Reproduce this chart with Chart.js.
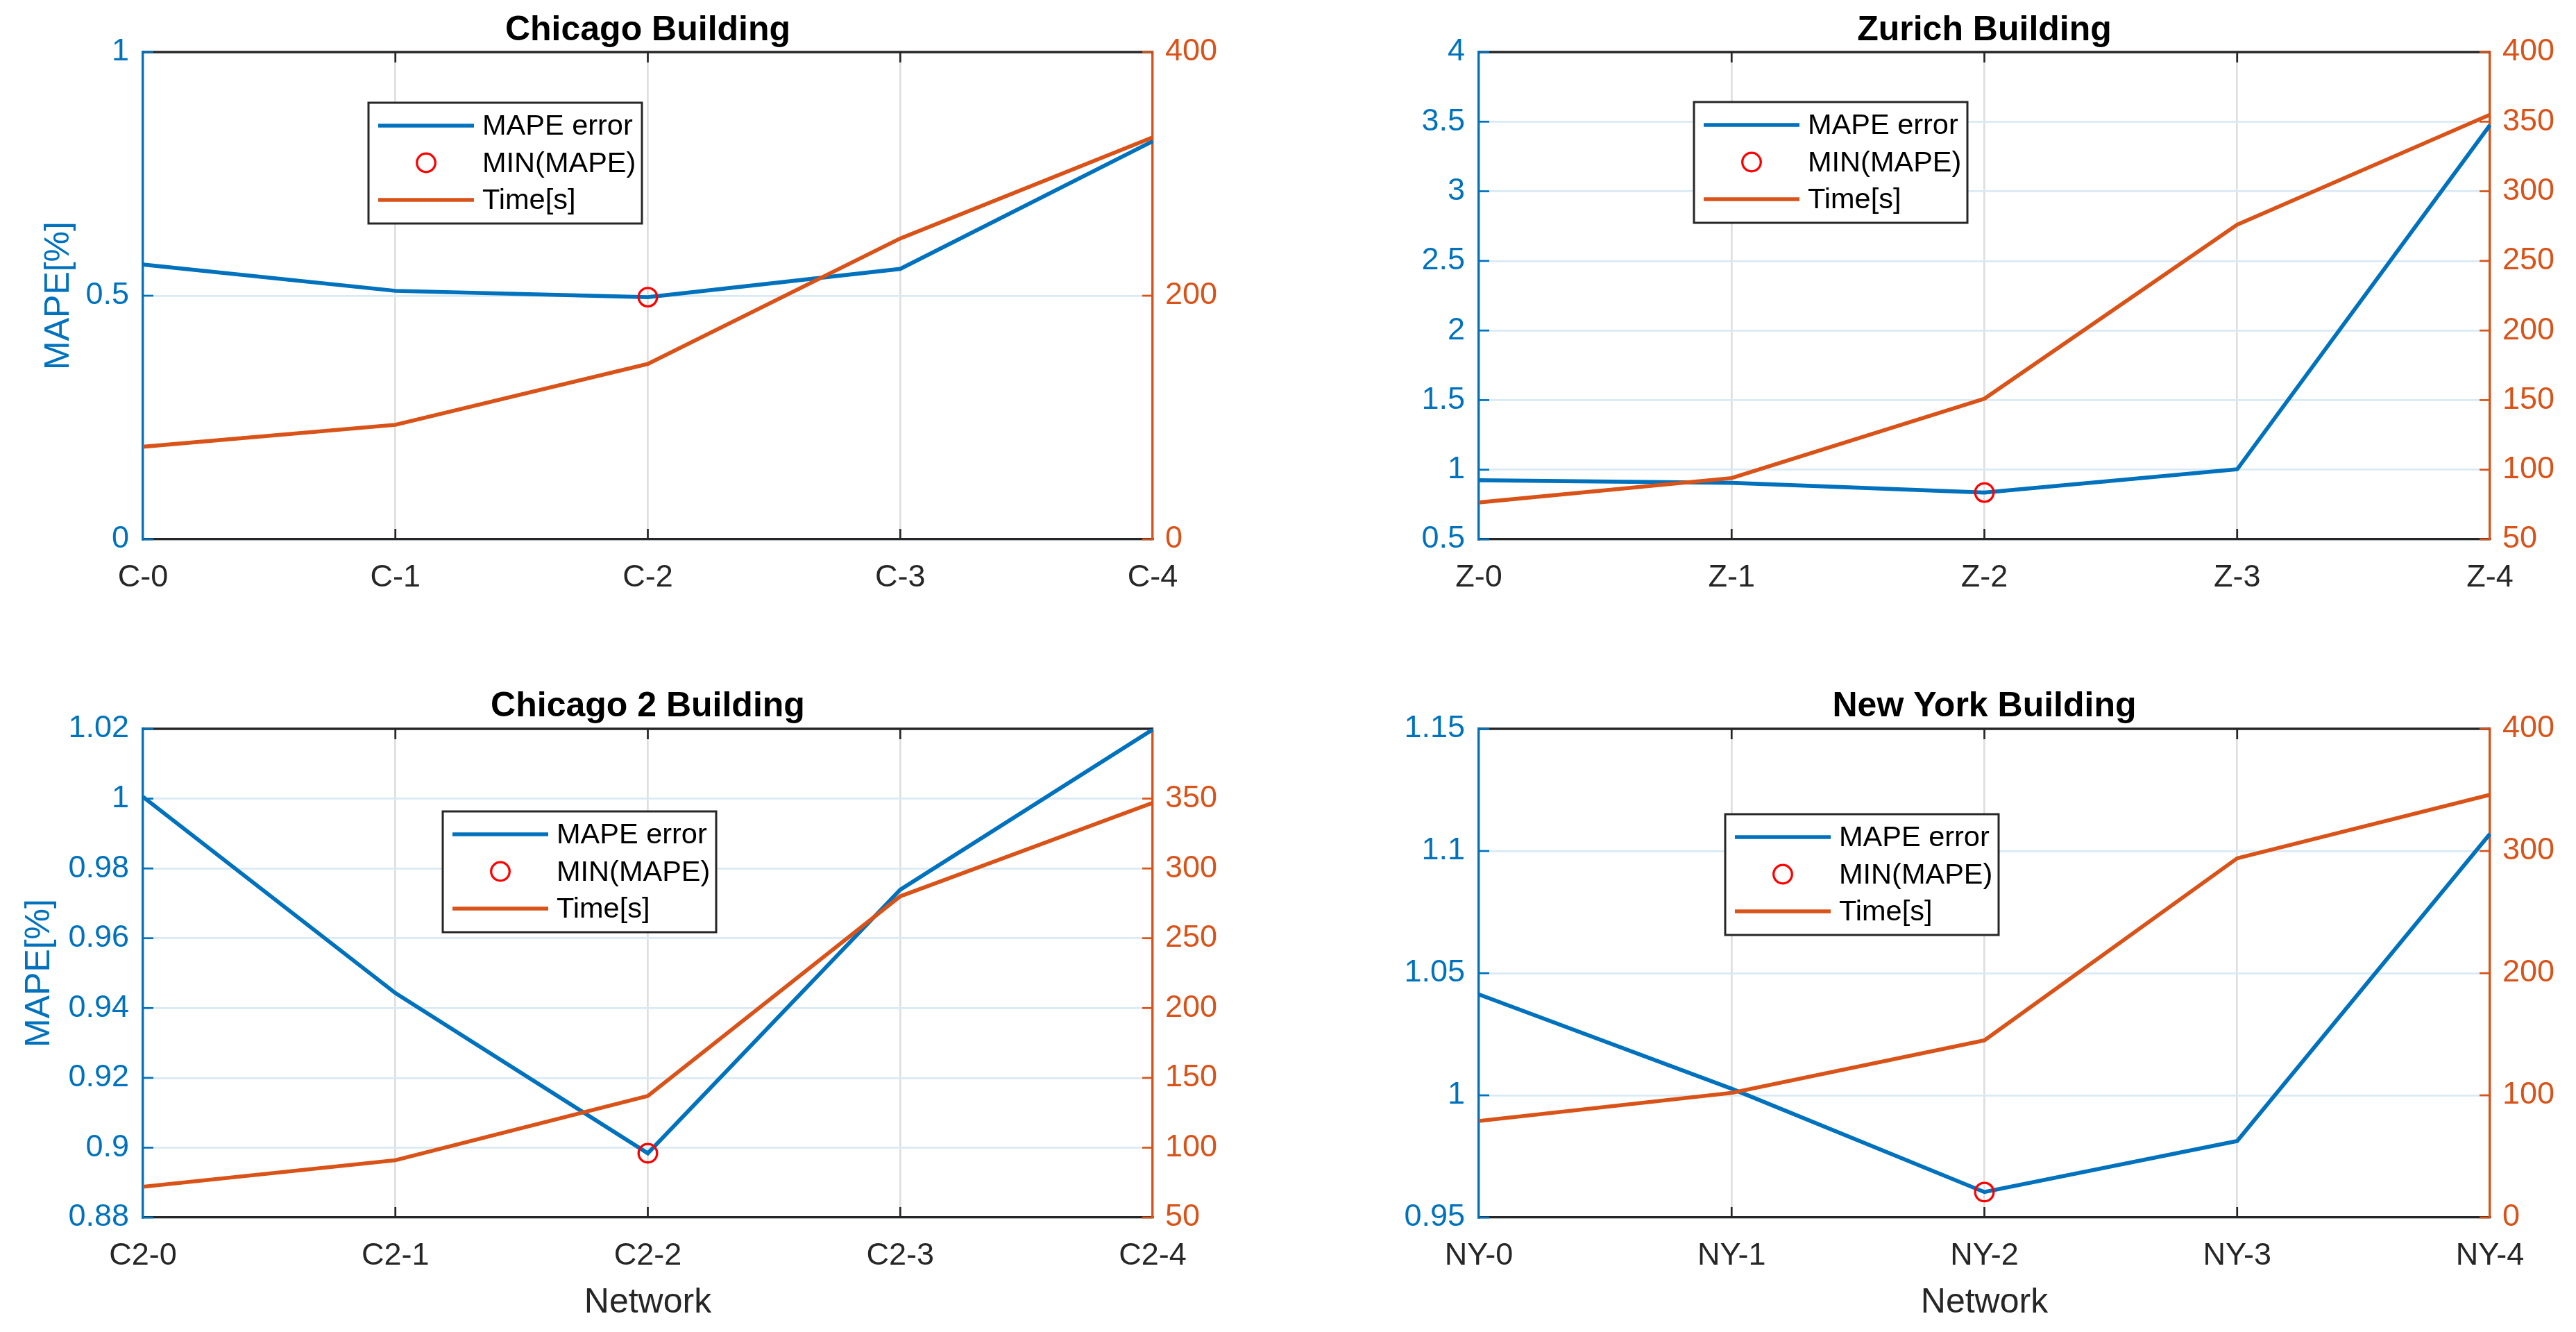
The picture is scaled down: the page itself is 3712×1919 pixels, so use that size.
<!DOCTYPE html>
<html>
<head>
<meta charset="utf-8">
<script src="https://cdn.jsdelivr.net/npm/chart.js@4.4.1/dist/chart.umd.min.js"></script>
<style>
  html, body { margin: 0; padding: 0; background: #fff; overflow: hidden; }
  #wrap { position: relative; width: 3712px; height: 1919px; background: #fff; }
  canvas { position: absolute; }
</style>
</head>
<body>
<div id="wrap">
  <canvas id="c0" width="1867" height="960" style="left:0;top:0"></canvas>
  <canvas id="c1" width="1705" height="960" style="left:2007px;top:0"></canvas>
  <canvas id="c2" width="1867" height="959" style="left:0;top:960px"></canvas>
  <canvas id="c3" width="1705" height="959" style="left:2007px;top:960px"></canvas>
</div>
<script>
// data
const chicagoNets = ['C-0', 'C-1', 'C-2', 'C-3', 'C-4'];
const chicagoMape = [0.564, 0.510, 0.497, 0.555, 0.817];
const chicagoTime = [76, 94, 144, 247, 330];
const chicagoMapeTicks = [0, 0.5, 1];
const chicagoTimeTicks = [0, 200, 400];
const chicagoTimeLimits = [0, 400];

const zurichNets = ['Z-0', 'Z-1', 'Z-2', 'Z-3', 'Z-4'];
const zurichMape = [0.924, 0.906, 0.836, 1.003, 3.475];
const zurichTime = [76.5, 94, 151, 276, 355];
const zurichMapeTicks = [0.5, 1, 1.5, 2, 2.5, 3, 3.5, 4];
const zurichTimeTicks = [50, 100, 150, 200, 250, 300, 350, 400];
const zurichTimeLimits = [50, 400];

const chicago2Nets = ['C2-0', 'C2-1', 'C2-2', 'C2-3', 'C2-4'];
const chicago2Mape = [1.0005, 0.9443, 0.8984, 0.9739, 1.0198];
const chicago2Time = [72, 91, 137, 280, 347];
const chicago2MapeTicks = [0.88, 0.9, 0.92, 0.94, 0.96, 0.98, 1, 1.02];
const chicago2TimeTicks = [50, 100, 150, 200, 250, 300, 350];
const chicago2TimeLimits = [50, 400];

const newYorkNets = ['NY-0', 'NY-1', 'NY-2', 'NY-3', 'NY-4'];
const newYorkMape = [1.0413, 1.0027, 0.9604, 0.9813, 1.107];
const newYorkTime = [79, 102, 145, 294, 346];
const newYorkMapeTicks = [0.95, 1, 1.05, 1.1, 1.15];
const newYorkTimeTicks = [0, 100, 200, 300, 400];
const newYorkTimeLimits = [0, 400];

const BLUE = '#0072BD', ORANGE = '#D95319', DARK = '#262626';
const FONT = '"Liberation Sans", Arial, Helvetica, sans-serif';

// ticks drawn inward + top frame, like the original axes box
const innerTicks = {
    id: 'innerTicks',
    beforeDatasetsDraw(chart) {
        const { ctx, chartArea: a, scales } = chart;
        const seg = (x1, y1, x2, y2) => { ctx.beginPath(); ctx.moveTo(x1, y1); ctx.lineTo(x2, y2); ctx.stroke(); };
        ctx.save();
        ctx.strokeStyle = DARK; ctx.lineWidth = 3.3;
        seg(a.left, a.top, a.right, a.top);
        ctx.lineWidth = 2.7;
        const n = scales.x.ticks.length;
        for (let i = 1; i < n - 1; i++) {
            const px = scales.x.getPixelForTick(i);
            seg(px, a.bottom, px, a.bottom - 15);
            seg(px, a.top, px, a.top + 15);
        }
        ctx.strokeStyle = BLUE;
        scales.y.ticks.forEach(t => { const py = scales.y.getPixelForValue(t.value); seg(a.left, py, a.left + 15, py); });
        ctx.strokeStyle = ORANGE;
        scales.y1.ticks.forEach(t => { const py = scales.y1.getPixelForValue(t.value); seg(a.right, py, a.right - 15, py); });
        ctx.restore();
    }
};

// boxed legend placed inside the plot area
const boxLegend = {
    id: 'boxLegend',
    afterDatasetsDraw(chart, args, opts) {
        const { ctx, chartArea } = chart;
        const x = chartArea.left + opts.dx, y = chartArea.top + opts.dy;
        ctx.save();
        ctx.fillStyle = '#fff';
        ctx.fillRect(x, y, 394, 174);
        ctx.strokeStyle = DARK; ctx.lineWidth = 3;
        ctx.strokeRect(x, y, 394, 174);
        chart.data.datasets.forEach((ds, i) => {
            const cy = y + 33 + i * 53.5;
            if (ds.showLine === false) {
                ctx.strokeStyle = ds.pointBorderColor; ctx.lineWidth = ds.pointBorderWidth;
                ctx.beginPath(); ctx.arc(x + 83, cy, ds.pointRadius, 0, Math.PI * 2); ctx.stroke();
            } else {
                ctx.strokeStyle = ds.borderColor; ctx.lineWidth = ds.borderWidth;
                ctx.beginPath(); ctx.moveTo(x + 14, cy); ctx.lineTo(x + 152, cy); ctx.stroke();
            }
            ctx.fillStyle = '#000';
            ctx.font = '41.5px ' + FONT;
            ctx.textBaseline = 'middle'; ctx.textAlign = 'left';
            ctx.fillText(ds.label, x + 164, cy + 2);
        });
        ctx.restore();
    }
};

function makePanel(id, p) {
    const minVal = Math.min(...p.mape);
    new Chart(document.getElementById(id), {
        type: 'line',
        data: {
            labels: p.nets,
            datasets: [
                { label: 'MAPE error', data: p.mape, yAxisID: 'y', borderColor: BLUE, borderWidth: 5.7, pointRadius: 0, tension: 0, order: 2 },
                { label: 'MIN(MAPE)', data: p.mape.map(v => v === minVal ? v : null), yAxisID: 'y', showLine: false,
                  pointStyle: 'circle', pointRadius: 13.3, pointBorderWidth: 3.3, pointBorderColor: '#FF0000',
                  pointBackgroundColor: 'rgba(0,0,0,0)', order: 1 },
                { label: 'Time[s]', data: p.time, yAxisID: 'y1', borderColor: ORANGE, borderWidth: 5.7, pointRadius: 0, tension: 0, order: 0 }
            ]
        },
        options: {
            responsive: false, animation: false, devicePixelRatio: 1,
            layout: { padding: 0 },
            plugins: {
                legend: { display: false }, tooltip: { enabled: false },
                title: { display: true, text: p.title, color: '#000', font: { family: FONT, size: 50, weight: 'bold' },
                         padding: { top: p.titlePad[0], bottom: p.titlePad[1] } },
                boxLegend: { dx: p.legend[0], dy: p.legend[1] }
            },
            scales: {
                x: {
                    offset: false,
                    grid: { color: '#dfdfdf', lineWidth: 2.7, drawTicks: false },
                    border: { color: DARK, width: 3.3 },
                    ticks: { color: DARK, font: { family: FONT, size: 45 }, padding: 29, maxRotation: 0, autoSkip: false },
                    title: { display: p.showX, text: 'Network', color: DARK, font: { family: FONT, size: 50 }, padding: { top: 0, bottom: 12 } },
                    afterFit: s => { s.height = p.xh; }
                },
                y: {
                    position: 'left', min: p.mapeTicks[0], max: p.mapeTicks[p.mapeTicks.length - 1],
                    grid: { color: '#d9eaf5', lineWidth: 2.7, drawTicks: false },
                    border: { color: BLUE, width: 3.3 },
                    ticks: { color: BLUE, font: { family: FONT, size: 45 }, padding: 20, callback: v => String(v) },
                    title: { display: p.yTitlePad !== null, text: 'MAPE[%]', color: BLUE, font: { family: FONT, size: 50 },
                             padding: { top: p.yTitlePad || 0, bottom: 0 } },
                    afterBuildTicks: s => { s.ticks = p.mapeTicks.map(v => ({ value: v })); },
                    afterFit: s => { s.width = p.lw; }
                },
                y1: {
                    position: 'right', min: p.timeLimits[0], max: p.timeLimits[1],
                    grid: { drawOnChartArea: false, drawTicks: false },
                    border: { color: ORANGE, width: 3.3 },
                    ticks: { color: ORANGE, font: { family: FONT, size: 45 }, padding: 18, callback: v => String(v) },
                    afterBuildTicks: s => { s.ticks = p.timeTicks.map(v => ({ value: v })); },
                    afterFit: s => { s.width = p.rw; }
                }
            }
        },
        plugins: [innerTicks, boxLegend]
    });
}

makePanel('c0', { title: 'Chicago Building', nets: chicagoNets, mape: chicagoMape, time: chicagoTime,
    mapeTicks: chicagoMapeTicks, timeTicks: chicagoTimeTicks, timeLimits: chicagoTimeLimits,
    titlePad: [14, 1], xh: 183, lw: 206, rw: 206, showX: false, yTitlePad: 55, legend: [325, 73] });
makePanel('c1', { title: 'Zurich Building', nets: zurichNets, mape: zurichMape, time: zurichTime,
    mapeTicks: zurichMapeTicks, timeTicks: zurichTimeTicks, timeLimits: zurichTimeLimits,
    titlePad: [14, 1], xh: 183, lw: 124, rw: 124, showX: false, yTitlePad: null, legend: [310, 72] });
makePanel('c2', { title: 'Chicago 2 Building', nets: chicago2Nets, mape: chicago2Mape, time: chicago2Time,
    mapeTicks: chicago2MapeTicks, timeTicks: chicago2TimeTicks, timeLimits: chicago2TimeLimits,
    titlePad: [28.5, 1.5], xh: 165, lw: 206, rw: 206, showX: true, yTitlePad: 27, legend: [432, 119] });
makePanel('c3', { title: 'New York Building', nets: newYorkNets, mape: newYorkMape, time: newYorkTime,
    mapeTicks: newYorkMapeTicks, timeTicks: newYorkTimeTicks, timeLimits: newYorkTimeLimits,
    titlePad: [28.5, 1.5], xh: 165, lw: 124, rw: 124, showX: true, yTitlePad: null, legend: [355, 123] });
</script>
</body>
</html>
